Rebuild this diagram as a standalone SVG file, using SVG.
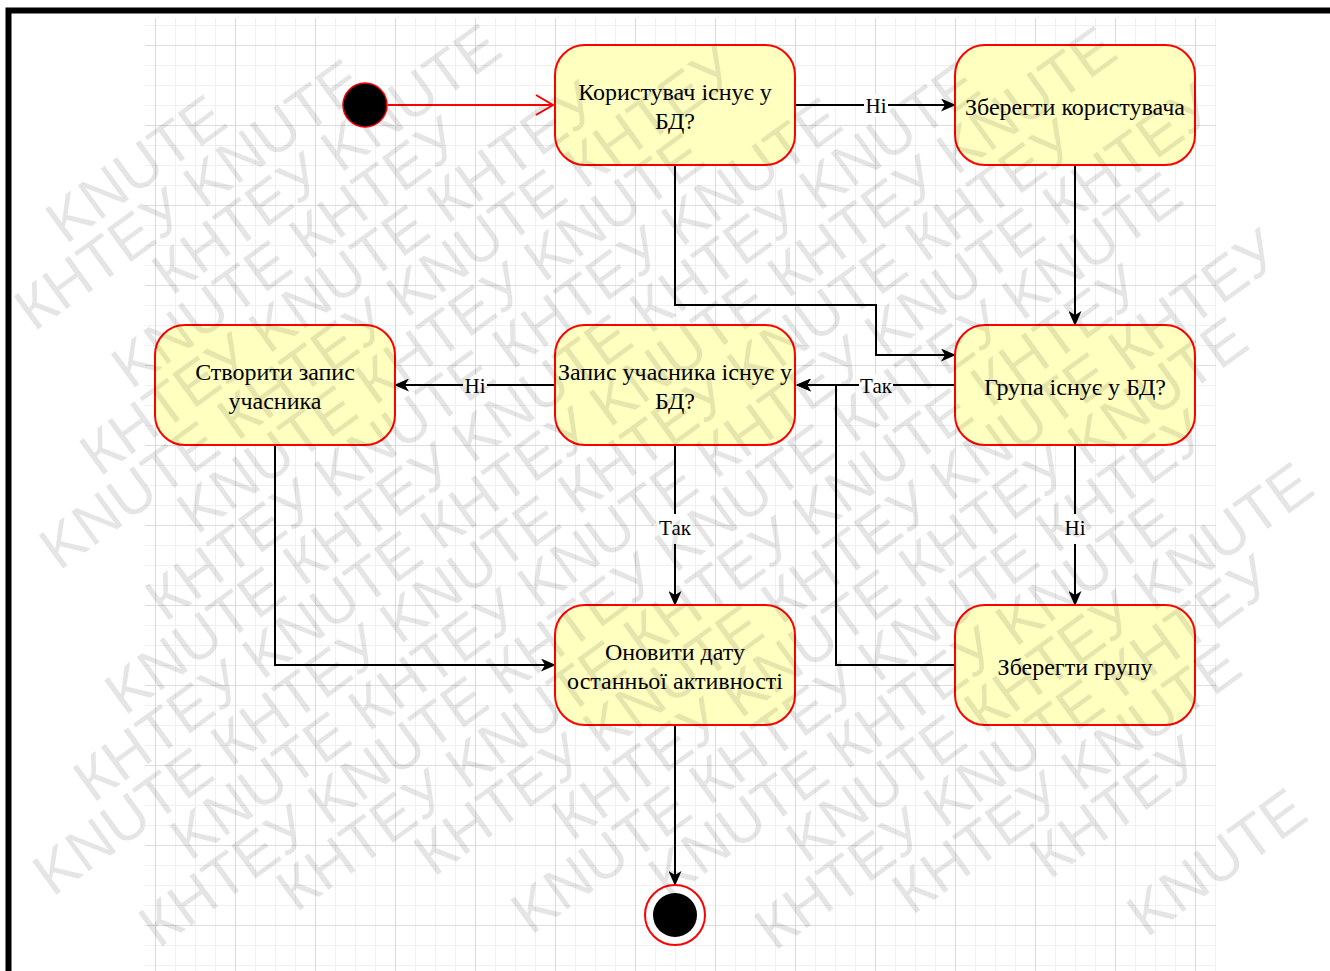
<svg xmlns="http://www.w3.org/2000/svg" width="1330" height="971" viewBox="0 0 1330 971">
<style>
.node rect{fill:#ffffc0;stroke:#ff0000;stroke-width:2}
.nt{font-family:"Liberation Serif","Times New Roman",serif;font-size:24px;fill:#000;text-anchor:middle}
.lbl{font-family:"Liberation Serif","Times New Roman",serif;font-size:21px;fill:#000;text-anchor:middle}
.e{fill:none;stroke:#000;stroke-width:2}
.lb{fill:#fff}
.wm text{font-family:"Liberation Sans",Arial,sans-serif;font-size:60px;fill:#000;fill-opacity:0.1}
</style>
<defs>
<pattern id="grid" patternUnits="userSpaceOnUse" x="155" y="45" width="80" height="80">
<rect x="0" y="0" width="80" height="80" fill="#fff"/>
<rect x="20" y="0" width="1" height="80" fill="#f0f0f0"/>
<rect x="40" y="0" width="1" height="80" fill="#f0f0f0"/>
<rect x="60" y="0" width="1" height="80" fill="#f0f0f0"/>
<rect x="0" y="20" width="80" height="1" fill="#f0f0f0"/>
<rect x="0" y="40" width="80" height="1" fill="#f0f0f0"/>
<rect x="0" y="60" width="80" height="1" fill="#f0f0f0"/>
<rect x="0" y="0" width="1" height="80" fill="#dcdcdc"/>
<rect x="0" y="0" width="80" height="1" fill="#dcdcdc"/>
</pattern>
<marker id="arr" viewBox="0 0 15 13" markerWidth="15" markerHeight="13" refX="14" refY="6.5" orient="auto" markerUnits="userSpaceOnUse">
<path d="M0,0 L15,6.5 L0,13 L4,6.5 Z" fill="#000"/>
</marker>
<marker id="open" viewBox="0 0 20 22" markerWidth="20" markerHeight="22" refX="18" refY="11" orient="auto" markerUnits="userSpaceOnUse">
<path d="M1,1 L18,11 L1,21" fill="none" stroke="#ff0000" stroke-width="2"/>
</marker>
</defs>
<rect width="1330" height="971" fill="#fff"/>
<rect x="145" y="18" width="1071" height="960" fill="url(#grid)"/>
<rect x="8.5" y="10.5" width="1400" height="1000" fill="none" stroke="#000" stroke-width="6"/>

<g id="connectors">
<path class="e" d="M388,105 H553" style="stroke:#ff0000" marker-end="url(#open)"/>
<path class="e" d="M795,105 H955" marker-end="url(#arr)"/>
<path class="e" d="M675,165 V305 H876 V355 H955" marker-end="url(#arr)"/>
<path class="e" d="M1075,165 V325" marker-end="url(#arr)"/>
<path class="e" d="M955,665 H836 V385 H797" marker-end="url(#arr)"/>
<path class="e" d="M955,385 H797" marker-end="url(#arr)"/>
<path class="e" d="M555,385 H395" marker-end="url(#arr)"/>
<path class="e" d="M675,445 V605" marker-end="url(#arr)"/>
<path class="e" d="M1075,445 V605" marker-end="url(#arr)"/>
<path class="e" d="M275,445 V665 H555" marker-end="url(#arr)"/>
<path class="e" d="M675,725 V885" marker-end="url(#arr)"/>
<rect class="lb" x="864" y="95" width="24" height="22"/>
<text class="lbl" x="876" y="113">Ні</text>
<rect class="lb" x="859" y="375" width="34" height="22"/>
<text class="lbl" x="876" y="393">Так</text>
<rect class="lb" x="463" y="375" width="24" height="22"/>
<text class="lbl" x="475" y="393">Ні</text>
<rect class="lb" x="658" y="514" width="34" height="30"/>
<text class="lbl" x="675" y="535">Так</text>
<rect class="lb" x="1063" y="514" width="24" height="30"/>
<text class="lbl" x="1075" y="535">Ні</text>
</g>

<g id="start"><circle cx="365" cy="105" r="22" fill="#000" stroke="#ff0000" stroke-width="1.5"/></g>
<g id="n1" class="node"><rect x="555" y="45" width="240" height="120" rx="30"/>
<text class="nt" x="675" y="100">Користувач існує у</text><text class="nt" x="675" y="129">БД?</text></g>
<g id="n2" class="node"><rect x="955" y="45" width="240" height="120" rx="30"/>
<text class="nt" x="1075" y="115">Зберегти користувача</text></g>
<g id="n3" class="node"><rect x="155" y="325" width="240" height="120" rx="30"/>
<text class="nt" x="275" y="380">Створити запис</text><text class="nt" x="275" y="409">учасника</text></g>
<g id="n4" class="node"><rect x="555" y="325" width="240" height="120" rx="30"/>
<text class="nt" x="675" y="380">Запис учасника існує у</text><text class="nt" x="675" y="409">БД?</text></g>
<g id="n5" class="node"><rect x="955" y="325" width="240" height="120" rx="30"/>
<text class="nt" x="1075" y="395">Група існує у БД?</text></g>
<g id="n6" class="node"><rect x="555" y="605" width="240" height="120" rx="30"/>
<text class="nt" x="675" y="660">Оновити дату</text><text class="nt" x="675" y="689">останньої активності</text></g>
<g id="n7" class="node"><rect x="955" y="605" width="240" height="120" rx="30"/>
<text class="nt" x="1075" y="675">Зберегти групу</text></g>
<g id="end"><circle cx="675" cy="915" r="30" fill="#fff" stroke="#ff0000" stroke-width="2"/><circle cx="675" cy="915" r="22" fill="#000"/></g>

<g id="watermark" class="wm">
<text transform="translate(65.5 245.3) rotate(-36)">KNUTE</text>
<text transform="translate(34 332.5) rotate(-36)">КНТЕУ</text>
<text transform="translate(203.1 209.6) rotate(-36)">KNUTE</text>
<text transform="translate(171.5 296.8) rotate(-36)">КНТЕУ</text>
<text transform="translate(340.6 174) rotate(-36)">KNUTE</text>
<text transform="translate(131.1 390.5) rotate(-36)">KNUTE</text>
<text transform="translate(309 261.2) rotate(-36)">КНТЕУ</text>
<text transform="translate(99.5 477.8) rotate(-36)">КНТЕУ</text>
<text transform="translate(268.6 354.9) rotate(-36)">KNUTE</text>
<text transform="translate(446.6 225.5) rotate(-36)">КНТЕУ</text>
<text transform="translate(59.1 571.5) rotate(-36)">KNUTE</text>
<text transform="translate(237 442.1) rotate(-36)">КНТЕУ</text>
<text transform="translate(406.1 319.2) rotate(-36)">KNUTE</text>
<text transform="translate(584.1 189.9) rotate(-36)">КНТЕУ</text>
<text transform="translate(196.6 535.8) rotate(-36)">KNUTE</text>
<text transform="translate(374.6 406.5) rotate(-36)">КНТЕУ</text>
<text transform="translate(543.6 283.6) rotate(-36)">KNUTE</text>
<text transform="translate(165 623) rotate(-36)">КНТЕУ</text>
<text transform="translate(334.1 500.2) rotate(-36)">KNUTE</text>
<text transform="translate(512.1 370.8) rotate(-36)">КНТЕУ</text>
<text transform="translate(681.2 247.9) rotate(-36)">KNUTE</text>
<text transform="translate(124.6 716.7) rotate(-36)">KNUTE</text>
<text transform="translate(302.6 587.4) rotate(-36)">КНТЕУ</text>
<text transform="translate(471.6 464.5) rotate(-36)">KNUTE</text>
<text transform="translate(649.6 335.1) rotate(-36)">КНТЕУ</text>
<text transform="translate(818.7 212.2) rotate(-36)">KNUTE</text>
<text transform="translate(93 804) rotate(-36)">КНТЕУ</text>
<text transform="translate(262.1 681.1) rotate(-36)">KNUTE</text>
<text transform="translate(440.1 551.7) rotate(-36)">КНТЕУ</text>
<text transform="translate(609.2 428.8) rotate(-36)">KNUTE</text>
<text transform="translate(787.2 299.5) rotate(-36)">КНТЕУ</text>
<text transform="translate(956.2 176.6) rotate(-36)">KNUTE</text>
<text transform="translate(52.6 897.7) rotate(-36)">KNUTE</text>
<text transform="translate(230.6 768.3) rotate(-36)">КНТЕУ</text>
<text transform="translate(399.6 645.4) rotate(-36)">KNUTE</text>
<text transform="translate(577.6 516.1) rotate(-36)">КНТЕУ</text>
<text transform="translate(746.7 393.2) rotate(-36)">KNUTE</text>
<text transform="translate(924.7 263.8) rotate(-36)">КНТЕУ</text>
<text transform="translate(190.1 862) rotate(-36)">KNUTE</text>
<text transform="translate(368.1 732.7) rotate(-36)">КНТЕУ</text>
<text transform="translate(537.2 609.8) rotate(-36)">KNUTE</text>
<text transform="translate(715.2 480.4) rotate(-36)">КНТЕУ</text>
<text transform="translate(884.2 357.5) rotate(-36)">KNUTE</text>
<text transform="translate(1062.2 228.2) rotate(-36)">КНТЕУ</text>
<text transform="translate(158.6 949.3) rotate(-36)">КНТЕУ</text>
<text transform="translate(327.6 826.4) rotate(-36)">KNUTE</text>
<text transform="translate(505.6 697) rotate(-36)">КНТЕУ</text>
<text transform="translate(674.7 574.1) rotate(-36)">KNUTE</text>
<text transform="translate(852.7 444.7) rotate(-36)">КНТЕУ</text>
<text transform="translate(1021.8 321.9) rotate(-36)">KNUTE</text>
<text transform="translate(296.1 913.6) rotate(-36)">КНТЕУ</text>
<text transform="translate(465.2 790.7) rotate(-36)">KNUTE</text>
<text transform="translate(643.2 661.3) rotate(-36)">КНТЕУ</text>
<text transform="translate(812.2 538.4) rotate(-36)">KNUTE</text>
<text transform="translate(990.2 409.1) rotate(-36)">КНТЕУ</text>
<text transform="translate(433.6 877.9) rotate(-36)">КНТЕУ</text>
<text transform="translate(602.7 755) rotate(-36)">KNUTE</text>
<text transform="translate(780.7 625.7) rotate(-36)">КНТЕУ</text>
<text transform="translate(949.8 502.8) rotate(-36)">KNUTE</text>
<text transform="translate(1127.7 373.4) rotate(-36)">КНТЕУ</text>
<text transform="translate(571.2 842.3) rotate(-36)">КНТЕУ</text>
<text transform="translate(740.2 719.4) rotate(-36)">KNUTE</text>
<text transform="translate(918.2 590) rotate(-36)">КНТЕУ</text>
<text transform="translate(1087.3 467.1) rotate(-36)">KNUTE</text>
<text transform="translate(530.7 936) rotate(-36)">KNUTE</text>
<text transform="translate(708.7 806.6) rotate(-36)">КНТЕУ</text>
<text transform="translate(877.8 683.7) rotate(-36)">KNUTE</text>
<text transform="translate(1055.7 554.4) rotate(-36)">КНТЕУ</text>
<text transform="translate(668.2 900.3) rotate(-36)">KNUTE</text>
<text transform="translate(846.2 771) rotate(-36)">КНТЕУ</text>
<text transform="translate(1015.3 648.1) rotate(-36)">KNUTE</text>
<text transform="translate(805.8 864.7) rotate(-36)">KNUTE</text>
<text transform="translate(983.7 735.3) rotate(-36)">КНТЕУ</text>
<text transform="translate(1152.8 612.4) rotate(-36)">KNUTE</text>
<text transform="translate(774.2 951.9) rotate(-36)">КНТЕУ</text>
<text transform="translate(943.3 829) rotate(-36)">KNUTE</text>
<text transform="translate(1121.3 699.6) rotate(-36)">КНТЕУ</text>
<text transform="translate(911.7 916.2) rotate(-36)">КНТЕУ</text>
<text transform="translate(1080.8 793.3) rotate(-36)">KNUTE</text>
<text transform="translate(1049.3 880.6) rotate(-36)">КНТЕУ</text>
<text transform="translate(1146.4 938.6) rotate(-36)">KNUTE</text>
</g>
</svg>
